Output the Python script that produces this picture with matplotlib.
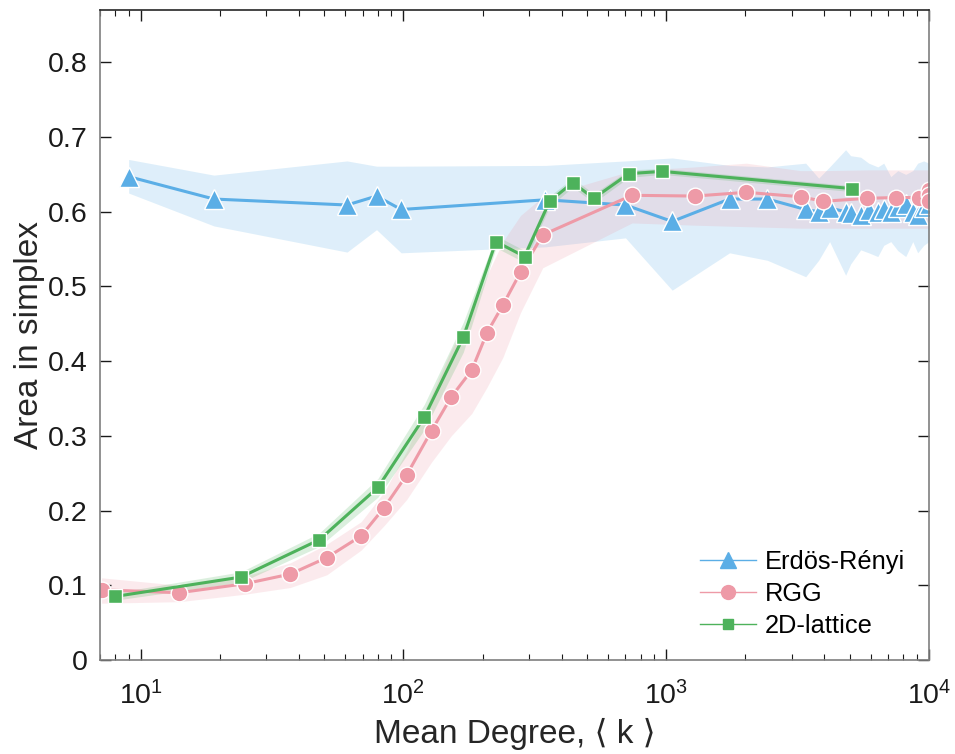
import numpy as np
import matplotlib
matplotlib.use("Agg")
from matplotlib import pyplot as plt
from matplotlib.lines import Line2D

plt.rcParams['font.family'] = ['Liberation Sans', 'DejaVu Sans']
plt.rcParams['mathtext.fontset'] = 'custom'
plt.rcParams['mathtext.rm'] = 'Liberation Sans'

# Erdos-Renyi: mean degree, mean area, band low/high
er_k = [9, 19, 61, 79, 98, 347, 700, 1054, 1742, 2427, 3396, 3805, 4188,
        4819, 5035, 5500, 5900, 6390, 6730, 7160, 7610, 8160, 8680, 9060, 9550, 10000]
er_y = [0.647, 0.617, 0.609, 0.621, 0.603, 0.616, 0.609, 0.587, 0.617, 0.617, 0.603,
        0.600, 0.605, 0.600, 0.598, 0.596, 0.602, 0.599, 0.603, 0.599, 0.606, 0.610,
        0.600, 0.596, 0.606, 0.610]
er_lo = [0.625, 0.581, 0.546, 0.576, 0.545, 0.553, 0.565, 0.495, 0.545, 0.535, 0.513,
         0.535, 0.560, 0.515, 0.530, 0.549, 0.545, 0.540, 0.555, 0.560, 0.548, 0.540,
         0.560, 0.545, 0.555, 0.560]
er_hi = [0.670, 0.649, 0.668, 0.661, 0.661, 0.662, 0.668, 0.672, 0.662, 0.660, 0.665,
         0.645, 0.660, 0.683, 0.675, 0.673, 0.665, 0.660, 0.665, 0.647, 0.655, 0.650,
         0.655, 0.665, 0.668, 0.665]

# RGG
rgg_k = [7.1, 14.0, 24.9, 37.1, 51.1, 69.0, 84.5, 103, 128, 152, 182, 208, 239, 279,
         339, 741, 1286, 2018, 3250, 3966, 5835, 7470, 9160, 10000, 10000, 10000]
rgg_y = [0.094, 0.090, 0.102, 0.115, 0.137, 0.166, 0.204, 0.248, 0.307, 0.352, 0.388,
         0.438, 0.475, 0.519, 0.569, 0.622, 0.621, 0.626, 0.620, 0.614, 0.618, 0.619,
         0.619, 0.629, 0.622, 0.615]
rgg_lo = [0.076, 0.078, 0.088, 0.097, 0.114, 0.147, 0.180, 0.215, 0.265, 0.300, 0.330,
          0.365, 0.405, 0.465, 0.525, 0.585, 0.582, 0.580, 0.578, 0.578, 0.578, 0.578,
          0.578, 0.578, 0.578, 0.578]
rgg_hi = [0.110, 0.100, 0.112, 0.130, 0.155, 0.185, 0.225, 0.280, 0.355, 0.415, 0.465,
          0.515, 0.560, 0.595, 0.620, 0.655, 0.660, 0.665, 0.655, 0.655, 0.656, 0.656,
          0.656, 0.656, 0.656, 0.656]

# 2D lattice
lat_k = [7.98, 24.1, 47.9, 80.0, 120, 169, 225, 289, 360, 441, 530, 721, 966, 5080]
lat_y = [0.085, 0.111, 0.161, 0.231, 0.325, 0.432, 0.560, 0.540, 0.614, 0.639, 0.618,
         0.651, 0.654, 0.631]
lat_lo = [0.080, 0.104, 0.152, 0.218, 0.308, 0.412, 0.552, 0.532, 0.607, 0.633, 0.612,
          0.646, 0.650, 0.627]
lat_hi = [0.090, 0.118, 0.170, 0.243, 0.342, 0.452, 0.568, 0.548, 0.621, 0.645, 0.624,
          0.656, 0.658, 0.635]

c_er = '#5BAEE6'
c_rgg = '#EE9AA7'
c_lat = '#4DB25B'

fig = plt.figure(figsize=(9.55, 7.54), dpi=100)
ax = fig.add_axes([0.1047, 0.1247, 0.868, 0.862])

ax.fill_between(er_k, er_lo, er_hi, color=c_er, alpha=0.2, lw=0)
ax.fill_between(rgg_k, rgg_lo, rgg_hi, color=c_rgg, alpha=0.2, lw=0)
ax.fill_between(lat_k, lat_lo, lat_hi, color=c_lat, alpha=0.2, lw=0)

ax.plot(er_k, er_y, '-^', color=c_er, lw=2.2, ms=14, mec='white', mew=1)
ax.plot(rgg_k, rgg_y, '-o', color=c_rgg, lw=2.2, ms=12, mec='white', mew=1)
ax.plot(lat_k, lat_y, '-s', color=c_lat, lw=2.2, ms=9.5, mec='white', mew=1)

ax.set_xscale('log')
ax.set_xlim(7, 1e4)
ax.set_ylim(0, 0.87)
ax.set_yticks(np.arange(0, 0.81, 0.1))
ax.set_yticklabels(['0', '0.1', '0.2', '0.3', '0.4', '0.5', '0.6', '0.7', '0.8'])
ax.set_xticks([10, 100, 1000, 10000])
ax.set_xticklabels([r'$\mathregular{10^{1}}$', r'$\mathregular{10^{2}}$',
                    r'$\mathregular{10^{3}}$', r'$\mathregular{10^{4}}$'])

ax.tick_params(which='both', direction='in', top=True, right=True,
               labelsize=20.5, colors='#1a1a1a')
ax.tick_params(which='major', length=8, width=1)
ax.tick_params(which='minor', length=4, width=0.8)
ax.tick_params(axis='y', pad=9)
ax.tick_params(axis='x', pad=15)
for s in ax.spines.values():
    s.set_color('#7f7f7f')
    s.set_linewidth(1.2)
ax.spines['top'].set_color('#262626')

ax.set_xlabel('Mean Degree, \u27e8 k \u27e9', fontsize=24, color='#262626')
ax.xaxis.label.set_va('baseline')
ax.xaxis.set_label_coords(0.5, -0.128)
ax.set_ylabel('Area in simplex', fontsize=24, color='#262626', labelpad=2)

handles = [
    Line2D([], [], color=c_er, lw=1, marker='^', ms=11, mec=c_er),
    Line2D([], [], color=c_rgg, lw=1, marker='o', ms=10, mec=c_rgg),
    Line2D([], [], color=c_lat, lw=1, marker='s', ms=7.5, mec=c_lat),
]
ax.legend(handles, ['Erd\u00f6s-R\u00e9nyi', 'RGG', '2D-lattice'], loc='lower right',
          bbox_to_anchor=(0.983, 0.018), borderaxespad=0,
          frameon=False, fontsize=18.3, handlelength=2.2, handletextpad=0.33,
          labelspacing=0.32)

fig.savefig('out.png', dpi=100)
